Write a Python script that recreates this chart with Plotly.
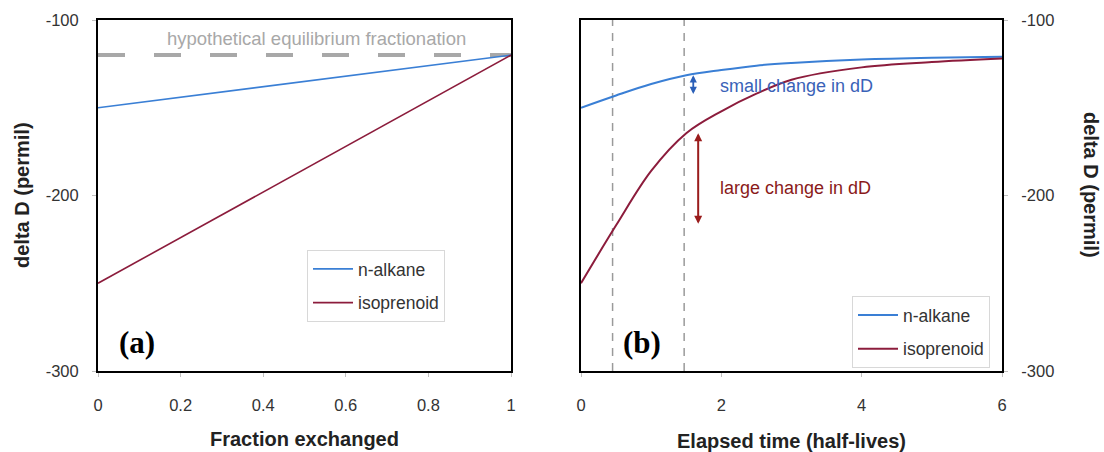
import plotly.graph_objects as go

# ---- data -------------------------------------------------------------
# panel (a): delta D against fraction of hydrogen exchanged
fraction = [0, 1]
frac_alkane = [-150, -120]
frac_isoprenoid = [-250, -120]
equilibrium = -120

# panel (b): delta D against elapsed time in half-lives
half_lives = [0, 0.5, 1, 1.5, 2, 2.5, 3, 4, 5, 6]
time_alkane = [-150, -143, -136.5, -131.5, -128.5, -126, -124.5, -122.5, -121.5, -121]
time_isoprenoid = [-250, -217, -186, -164.5, -152, -142, -134, -127, -124, -122]

# sampling times marked with dashed verticals
marker_times = [0.45, 1.47]
# change between the two sampling times (start, end) for each series
alkane_change = [-143, -131.5]
isoprenoid_change = [-217, -164.5]

x_ticks_a = [0, 0.2, 0.4, 0.6, 0.8, 1]
x_tick_text_a = ["0", "0.2", "0.4", "0.6", "0.8", "1"]
x_ticks_b = [0, 2, 4, 6]
x_tick_text_b = ["0", "2", "4", "6"]
y_ticks = [-300, -200, -100]
y_tick_text = ["-300", "-200", "-100"]

# ---- styling ----------------------------------------------------------
W, H = 1104, 452
BLUE = "#3a7fd5"
RED = "#8c1c3c"
FONT = "Liberation Sans"


def px(x):
    return x / W


def py(y):
    return 1 - y / H


fig = go.Figure()

# panel (a)
fig.add_trace(go.Scatter(
    x=fraction, y=[equilibrium, equilibrium], mode="lines",
    line=dict(color="#a8a8a8", width=4, dash="27px,29px"),
    showlegend=False, hoverinfo="skip", xaxis="x", yaxis="y"))
fig.add_trace(go.Scatter(
    x=fraction, y=frac_alkane, mode="lines", name="n-alkane",
    line=dict(color=BLUE, width=1.6), legend="legend",
    legendgroup="a1", xaxis="x", yaxis="y"))
fig.add_trace(go.Scatter(
    x=fraction, y=frac_isoprenoid, mode="lines", name="isoprenoid",
    line=dict(color=RED, width=1.6), legend="legend",
    legendgroup="a2", xaxis="x", yaxis="y"))

# panel (b)
for t in marker_times:
    fig.add_trace(go.Scatter(
        x=[t, t], y=[y_ticks[0], y_ticks[-1]], mode="lines",
        line=dict(color="#9a9a9a", width=1.5, dash="8px,7px"),
        showlegend=False, hoverinfo="skip", xaxis="x2", yaxis="y2"))
fig.add_trace(go.Scatter(
    x=half_lives, y=time_alkane, mode="lines", name="n-alkane",
    line=dict(color=BLUE, width=2, shape="spline"), legend="legend2",
    legendgroup="b1", xaxis="x2", yaxis="y2"))
fig.add_trace(go.Scatter(
    x=half_lives, y=time_isoprenoid, mode="lines", name="isoprenoid",
    line=dict(color=RED, width=2, shape="spline"), legend="legend2",
    legendgroup="b2", xaxis="x2", yaxis="y2"))

axis_common = dict(
    showline=True, linecolor="black", linewidth=2, mirror=True,
    showgrid=False, zeroline=False, ticks="outside", ticklen=4,
    tickcolor="#c0c0c0", automargin=False,
    tickfont=dict(family=FONT, size=16.5, color="#333"),
)

y_domain = [py(371), py(20)]

legend_common = dict(
    xanchor="left", yanchor="top", bordercolor="#d8d8d8", borderwidth=1,
    bgcolor="white", font=dict(family=FONT, size=17.5, color="#333"),
    tracegroupgap=8, itemwidth=40,
)

fig.update_layout(
    width=W, height=H,
    margin=dict(l=0, r=0, t=0, b=0),
    paper_bgcolor="white", plot_bgcolor="white",
    font=dict(family=FONT, color="#333"),
    xaxis=dict(domain=[px(98), px(511)], range=[0, 1], tickvals=x_ticks_a,
               ticktext=x_tick_text_a, anchor="y", ticklabelstandoff=14,
               **axis_common),
    yaxis=dict(domain=y_domain, range=[-300, -100], tickvals=y_ticks,
               ticktext=y_tick_text, anchor="x", ticklabelstandoff=10,
               **axis_common),
    xaxis2=dict(domain=[px(581), px(1002)], range=[0, 6], tickvals=x_ticks_b,
                ticktext=x_tick_text_b, anchor="y2", ticklabelstandoff=14,
                **axis_common),
    yaxis2=dict(domain=y_domain, range=[-300, -100], tickvals=y_ticks,
                ticktext=y_tick_text, anchor="x2", side="right",
                ticklabelstandoff=10, **axis_common),
    legend=dict(x=px(307), y=py(250), **legend_common),
    legend2=dict(x=px(852), y=py(296), **legend_common),
    showlegend=True,
)

annotations = [
    # axis titles
    dict(text="<b>delta D (permil)</b>", x=px(22), y=py(195), textangle=-90,
         font=dict(size=20, color="#222")),
    dict(text="<b>delta D (permil)</b>", x=px(1091), y=py(185), textangle=90,
         font=dict(size=20, color="#222")),
    dict(text="<b>Fraction exchanged</b>", x=px(304), y=py(439),
         font=dict(size=20, color="#222")),
    dict(text="<b>Elapsed time (half-lives)</b>", x=px(791), y=py(441),
         font=dict(size=20, color="#222")),
    # panel labels
    dict(text="<b>(a)</b>", x=px(137), y=py(342),
         font=dict(family="Liberation Serif", size=31, color="black")),
    dict(text="<b>(b)</b>", x=px(642), y=py(342),
         font=dict(family="Liberation Serif", size=31, color="black")),
    # equilibrium label
    dict(text="hypothetical equilibrium fractionation", x=px(316), y=py(38),
         font=dict(size=18.5, color="#a8a8a8")),
]
for a in annotations:
    a.update(xref="paper", yref="paper", showarrow=False,
             xanchor="center", yanchor="middle")
    a["font"].setdefault("family", FONT)

# change arrows and labels in panel (b)
annotations += [
    dict(x=1.6, y=alkane_change[1], ax=1.6, ay=alkane_change[0],
         xref="x2", yref="y2", axref="x2", ayref="y2", text="",
         showarrow=True, arrowhead=2, arrowside="end+start", arrowsize=0.8,
         arrowwidth=1.8, arrowcolor="#2a5fb8"),
    dict(x=1.67, y=isoprenoid_change[1], ax=1.67, ay=isoprenoid_change[0],
         xref="x2", yref="y2", axref="x2", ayref="y2", text="",
         showarrow=True, arrowhead=2, arrowside="end+start", arrowsize=0.8,
         arrowwidth=2, arrowcolor="#9a1c1c"),
    dict(text="small change in dD", x=1.95, y=-137.5, xref="x2", yref="y2",
         xanchor="left", yanchor="middle", showarrow=False,
         font=dict(family=FONT, size=18, color="#3a62b8")),
    dict(text="large change in dD", x=1.95, y=-195.5, xref="x2", yref="y2",
         xanchor="left", yanchor="middle", showarrow=False,
         font=dict(family=FONT, size=18, color="#8a1a1a")),
]
fig.update_layout(annotations=annotations)

fig.write_html("out.html")
